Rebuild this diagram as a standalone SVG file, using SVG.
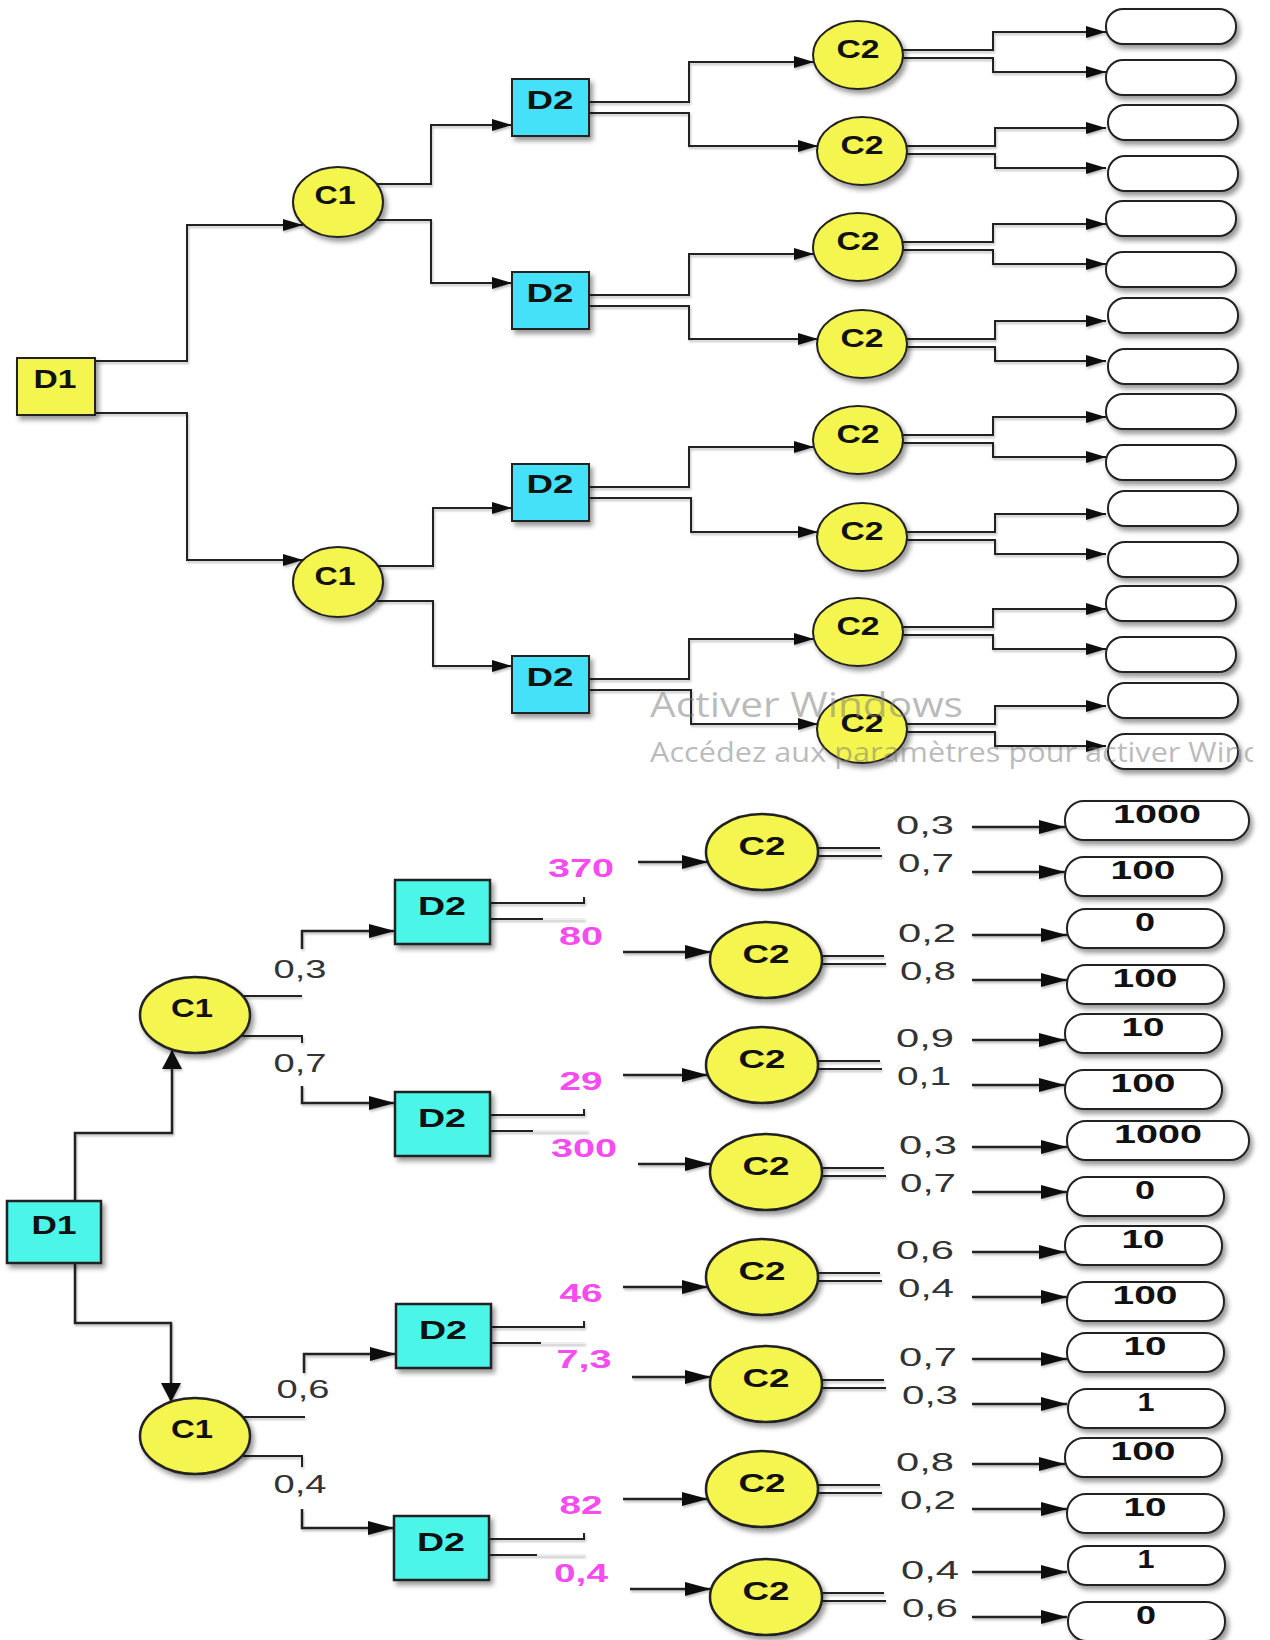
<svg xmlns="http://www.w3.org/2000/svg" width="1270" height="1640" viewBox="0 0 1270 1640">
<style>
.nd{stroke:#222;stroke-width:2;filter:url(#sh)}
.ndb{stroke:#222;stroke-width:2.5;filter:url(#sh)}
.y{fill:#F5F54F}
.cy{fill:#45E1F8}
.tq{fill:#4BF6E9}
.ob{fill:#fff;stroke:#222;stroke-width:2;filter:url(#sh)}
.nt{font-family:"Liberation Sans",Arial,sans-serif;font-weight:700;font-size:25px;text-anchor:middle;fill:#111}
.mg{font-family:"Liberation Sans",Arial,sans-serif;font-weight:700;font-size:25px;text-anchor:middle;fill:#F54BEF}
.pr{font-family:"Liberation Sans",Arial,sans-serif;font-weight:400;font-size:26px;text-anchor:middle;fill:#333}
.ln{fill:none;stroke:#222;stroke-width:2}
.lb{fill:none;stroke:#222;stroke-width:2.5}
.fa{fill:none;stroke:#eee;stroke-width:2}
.wm{font-family:"Open Sans","Noto Sans",sans-serif;fill:#777;fill-opacity:0.5}
</style>
<defs>
<filter id="sh" x="-20%" y="-20%" width="150%" height="160%"><feDropShadow dx="3" dy="4" stdDeviation="2.5" flood-color="#000" flood-opacity="0.4"/></filter>
<filter id="lsh" filterUnits="userSpaceOnUse" x="0" y="0" width="1270" height="1640"><feDropShadow dx="1" dy="2" stdDeviation="1" flood-color="#000" flood-opacity="0.25"/></filter>
<marker id="aT" markerUnits="userSpaceOnUse" markerWidth="20" markerHeight="12" refX="20" refY="6" orient="auto"><path d="M0,0 L20,6 L0,12 z" fill="#111"/></marker>
<marker id="aB" markerUnits="userSpaceOnUse" markerWidth="26" markerHeight="14" refX="26" refY="7" orient="auto"><path d="M0,0 L26,7 L0,14 z" fill="#111"/></marker>
<marker id="aV" markerUnits="userSpaceOnUse" markerWidth="19" markerHeight="20" refX="19" refY="10" orient="auto"><path d="M0,0 L19,10 L0,20 z" fill="#111"/></marker>
<clipPath id="wclip"><rect x="0" y="0" width="1253" height="1640"/></clipPath>
</defs>

<g id="connectors" filter="url(#lsh)">
<path class="ln" d="M95,361 H187 V225 H303" marker-end="url(#aT)"/>
<path class="ln" d="M95,413 H187 V560 H303" marker-end="url(#aT)"/>
<path class="ln" d="M377,184 H431 V125 H512" marker-end="url(#aT)"/>
<path class="ln" d="M377,220 H431 V283 H512" marker-end="url(#aT)"/>
<path class="ln" d="M377,566 H433 V508 H512" marker-end="url(#aT)"/>
<path class="ln" d="M377,601 H433 V666 H512" marker-end="url(#aT)"/>
<path class="ln" d="M589,102 H689 V62 H814" marker-end="url(#aT)"/>
<path class="ln" d="M589,113 H689 V146 H818" marker-end="url(#aT)"/>
<path class="ln" d="M589,295 H689 V254 H814" marker-end="url(#aT)"/>
<path class="ln" d="M589,306 H689 V339 H818" marker-end="url(#aT)"/>
<path class="ln" d="M589,487 H689 V447 H814" marker-end="url(#aT)"/>
<path class="ln" d="M589,498 H691 V532 H818" marker-end="url(#aT)"/>
<path class="ln" d="M589,679 H689 V639 H814" marker-end="url(#aT)"/>
<path class="ln" d="M589,690 H691 V724 H818" marker-end="url(#aT)"/>
<path class="ln" d="M902,50 H993 V32 H1106" marker-end="url(#aT)"/>
<path class="ln" d="M902,58 H993 V72 H1106" marker-end="url(#aT)"/>
<path class="ln" d="M906,146 H995 V128 H1106" marker-end="url(#aT)"/>
<path class="ln" d="M906,154 H995 V168 H1106" marker-end="url(#aT)"/>
<path class="ln" d="M902,242 H993 V224 H1106" marker-end="url(#aT)"/>
<path class="ln" d="M902,250 H993 V264 H1106" marker-end="url(#aT)"/>
<path class="ln" d="M906,339 H995 V321 H1106" marker-end="url(#aT)"/>
<path class="ln" d="M906,347 H995 V361 H1106" marker-end="url(#aT)"/>
<path class="ln" d="M902,435 H993 V417 H1106" marker-end="url(#aT)"/>
<path class="ln" d="M902,443 H993 V457 H1106" marker-end="url(#aT)"/>
<path class="ln" d="M906,532 H995 V514 H1106" marker-end="url(#aT)"/>
<path class="ln" d="M906,540 H995 V554 H1106" marker-end="url(#aT)"/>
<path class="ln" d="M902,627 H993 V609 H1106" marker-end="url(#aT)"/>
<path class="ln" d="M902,635 H993 V649 H1106" marker-end="url(#aT)"/>
<path class="ln" d="M906,724 H995 V706 H1106" marker-end="url(#aT)"/>
<path class="ln" d="M906,732 H995 V746 H1106" marker-end="url(#aT)"/>
<path class="lb" d="M75,1201 V1133 H172 V1050" marker-end="url(#aV)"/>
<path class="lb" d="M75,1263 V1323 H171 V1402" marker-end="url(#aV)"/>
<path class="ln" d="M243,996 H302"/>
<path class="lb" d="M302,949 V931 H395" marker-end="url(#aB)"/>
<path class="ln" d="M241,1036 H302 V1043"/>
<path class="lb" d="M302,1086 V1103 H395" marker-end="url(#aB)"/>
<path class="ln" d="M243,1417 H305"/>
<path class="lb" d="M304,1373 V1354 H396" marker-end="url(#aB)"/>
<path class="ln" d="M241,1456 H302 V1467"/>
<path class="lb" d="M302,1509 V1528 H394" marker-end="url(#aB)"/>
<path class="ln" d="M489,903 H584 V897"/>
<path class="ln" d="M489,919 H543"/>
<path class="fa" d="M543,919 H585"/>
<path class="ln" d="M489,1115 H584 V1109"/>
<path class="ln" d="M489,1131 H533"/>
<path class="fa" d="M533,1131 H588"/>
<path class="ln" d="M491,1327 H584 V1321"/>
<path class="ln" d="M491,1343 H541"/>
<path class="fa" d="M541,1343 H585"/>
<path class="ln" d="M489,1539 H584 V1533"/>
<path class="ln" d="M489,1555 H537"/>
<path class="fa" d="M537,1555 H585"/>
<path class="lb" d="M638,862 H708" marker-end="url(#aB)"/>
<path class="lb" d="M623,952 H711" marker-end="url(#aB)"/>
<path class="lb" d="M623,1075 H708" marker-end="url(#aB)"/>
<path class="lb" d="M638,1164 H711" marker-end="url(#aB)"/>
<path class="lb" d="M623,1287 H708" marker-end="url(#aB)"/>
<path class="lb" d="M632,1377 H711" marker-end="url(#aB)"/>
<path class="lb" d="M623,1499 H708" marker-end="url(#aB)"/>
<path class="lb" d="M630,1589 H711" marker-end="url(#aB)"/>
<path class="ln" d="M816,848 H880 M816,856 H882"/>
<path class="ln" d="M820,956 H884 M820,964 H886"/>
<path class="ln" d="M816,1061 H880 M816,1069 H882"/>
<path class="ln" d="M820,1168 H884 M820,1176 H886"/>
<path class="ln" d="M816,1273 H880 M816,1281 H882"/>
<path class="ln" d="M820,1380 H884 M820,1388 H886"/>
<path class="ln" d="M816,1485 H880 M816,1493 H882"/>
<path class="ln" d="M820,1593 H884 M820,1601 H886"/>
<path class="lb" d="M972,827 H1065" marker-end="url(#aB)"/>
<path class="lb" d="M972,872 H1065" marker-end="url(#aB)"/>
<path class="lb" d="M972,935 H1067" marker-end="url(#aB)"/>
<path class="lb" d="M972,980 H1067" marker-end="url(#aB)"/>
<path class="lb" d="M972,1040 H1065" marker-end="url(#aB)"/>
<path class="lb" d="M972,1085 H1065" marker-end="url(#aB)"/>
<path class="lb" d="M972,1147 H1067" marker-end="url(#aB)"/>
<path class="lb" d="M972,1192 H1067" marker-end="url(#aB)"/>
<path class="lb" d="M972,1252 H1065" marker-end="url(#aB)"/>
<path class="lb" d="M972,1297 H1067" marker-end="url(#aB)"/>
<path class="lb" d="M972,1359 H1067" marker-end="url(#aB)"/>
<path class="lb" d="M972,1404 H1067" marker-end="url(#aB)"/>
<path class="lb" d="M972,1464 H1065" marker-end="url(#aB)"/>
<path class="lb" d="M972,1509 H1067" marker-end="url(#aB)"/>
<path class="lb" d="M972,1572 H1067" marker-end="url(#aB)"/>
<path class="lb" d="M972,1617 H1067" marker-end="url(#aB)"/>
</g>

<g id="t-d1"><rect class="nd y" x="17" y="358" width="78" height="57"/><text class="nt" x="55" y="388" textLength="43" lengthAdjust="spacingAndGlyphs">D1</text></g>
<g id="t-c1a"><ellipse class="nd y" cx="338" cy="202" rx="45" ry="35"/><text class="nt" x="335" y="204" textLength="41" lengthAdjust="spacingAndGlyphs">C1</text></g>
<g id="t-c1b"><ellipse class="nd y" cx="338" cy="582" rx="45" ry="35"/><text class="nt" x="335" y="585" textLength="41" lengthAdjust="spacingAndGlyphs">C1</text></g>
<g id="t-d2a"><rect class="nd cy" x="512" y="79" width="77" height="57"/><text class="nt" x="550" y="109" textLength="47" lengthAdjust="spacingAndGlyphs">D2</text></g>
<g id="t-d2b"><rect class="nd cy" x="512" y="272" width="77" height="57"/><text class="nt" x="550" y="302" textLength="47" lengthAdjust="spacingAndGlyphs">D2</text></g>
<g id="t-d2c"><rect class="nd cy" x="512" y="464" width="77" height="57"/><text class="nt" x="550" y="493" textLength="47" lengthAdjust="spacingAndGlyphs">D2</text></g>
<g id="t-d2d"><rect class="nd cy" x="512" y="656" width="77" height="57"/><text class="nt" x="550" y="686" textLength="47" lengthAdjust="spacingAndGlyphs">D2</text></g>
<g id="t-c2a"><ellipse class="nd y" cx="858" cy="55" rx="45" ry="34"/><text class="nt" x="858" y="58" textLength="43" lengthAdjust="spacingAndGlyphs">C2</text></g>
<g id="t-c2b"><ellipse class="nd y" cx="862" cy="151" rx="45" ry="34"/><text class="nt" x="862" y="154" textLength="43" lengthAdjust="spacingAndGlyphs">C2</text></g>
<g id="t-c2c"><ellipse class="nd y" cx="858" cy="247" rx="45" ry="34"/><text class="nt" x="858" y="250" textLength="43" lengthAdjust="spacingAndGlyphs">C2</text></g>
<g id="t-c2d"><ellipse class="nd y" cx="862" cy="344" rx="45" ry="34"/><text class="nt" x="862" y="347" textLength="43" lengthAdjust="spacingAndGlyphs">C2</text></g>
<g id="t-c2e"><ellipse class="nd y" cx="858" cy="440" rx="45" ry="34"/><text class="nt" x="858" y="443" textLength="43" lengthAdjust="spacingAndGlyphs">C2</text></g>
<g id="t-c2f"><ellipse class="nd y" cx="862" cy="537" rx="45" ry="34"/><text class="nt" x="862" y="540" textLength="43" lengthAdjust="spacingAndGlyphs">C2</text></g>
<g id="t-c2g"><ellipse class="nd y" cx="858" cy="632" rx="45" ry="34"/><text class="nt" x="858" y="635" textLength="43" lengthAdjust="spacingAndGlyphs">C2</text></g>
<g id="t-c2h"><ellipse class="nd y" cx="862" cy="729" rx="45" ry="34"/><text class="nt" x="862" y="732" textLength="43" lengthAdjust="spacingAndGlyphs">C2</text></g>
<g id="t-outcomes">
<rect id="t-o1" class="ob" x="1106" y="9" width="130" height="35" rx="17"/>
<rect id="t-o2" class="ob" x="1106" y="60" width="130" height="35" rx="17"/>
<rect id="t-o3" class="ob" x="1108" y="105" width="130" height="35" rx="17"/>
<rect id="t-o4" class="ob" x="1108" y="156" width="130" height="35" rx="17"/>
<rect id="t-o5" class="ob" x="1106" y="201" width="130" height="35" rx="17"/>
<rect id="t-o6" class="ob" x="1106" y="252" width="130" height="35" rx="17"/>
<rect id="t-o7" class="ob" x="1108" y="298" width="130" height="35" rx="17"/>
<rect id="t-o8" class="ob" x="1108" y="349" width="130" height="35" rx="17"/>
<rect id="t-o9" class="ob" x="1106" y="394" width="130" height="35" rx="17"/>
<rect id="t-o10" class="ob" x="1106" y="445" width="130" height="35" rx="17"/>
<rect id="t-o11" class="ob" x="1108" y="491" width="130" height="35" rx="17"/>
<rect id="t-o12" class="ob" x="1108" y="542" width="130" height="35" rx="17"/>
<rect id="t-o13" class="ob" x="1106" y="586" width="130" height="35" rx="17"/>
<rect id="t-o14" class="ob" x="1106" y="637" width="130" height="35" rx="17"/>
<rect id="t-o15" class="ob" x="1108" y="683" width="130" height="35" rx="17"/>
<rect id="t-o16" class="ob" x="1108" y="734" width="130" height="35" rx="17"/>
</g>

<g id="b-d1"><rect class="ndb tq" x="7" y="1201" width="94" height="62"/><text class="nt" x="54" y="1234" textLength="45" lengthAdjust="spacingAndGlyphs">D1</text></g>
<g id="b-c1a"><ellipse class="ndb y" cx="195" cy="1015" rx="55" ry="38"/><text class="nt" x="192" y="1017" textLength="42" lengthAdjust="spacingAndGlyphs">C1</text></g>
<g id="b-c1b"><ellipse class="ndb y" cx="195" cy="1436" rx="55" ry="38"/><text class="nt" x="192" y="1438" textLength="42" lengthAdjust="spacingAndGlyphs">C1</text></g>
<g id="b-d2a"><rect class="ndb tq" x="395" y="880" width="95" height="64"/><text class="nt" x="442" y="915" textLength="48" lengthAdjust="spacingAndGlyphs">D2</text></g>
<g id="b-d2b"><rect class="ndb tq" x="395" y="1092" width="95" height="64"/><text class="nt" x="442" y="1127" textLength="48" lengthAdjust="spacingAndGlyphs">D2</text></g>
<g id="b-d2c"><rect class="ndb tq" x="396" y="1304" width="95" height="64"/><text class="nt" x="443" y="1339" textLength="48" lengthAdjust="spacingAndGlyphs">D2</text></g>
<g id="b-d2d"><rect class="ndb tq" x="394" y="1516" width="95" height="64"/><text class="nt" x="441" y="1551" textLength="48" lengthAdjust="spacingAndGlyphs">D2</text></g>
<g id="b-c2a"><ellipse class="ndb y" cx="762" cy="852" rx="56" ry="38"/><text class="nt" x="762" y="855" textLength="47" lengthAdjust="spacingAndGlyphs">C2</text></g>
<g id="b-c2b"><ellipse class="ndb y" cx="766" cy="960" rx="56" ry="38"/><text class="nt" x="766" y="963" textLength="47" lengthAdjust="spacingAndGlyphs">C2</text></g>
<g id="b-c2c"><ellipse class="ndb y" cx="762" cy="1065" rx="56" ry="38"/><text class="nt" x="762" y="1068" textLength="47" lengthAdjust="spacingAndGlyphs">C2</text></g>
<g id="b-c2d"><ellipse class="ndb y" cx="766" cy="1172" rx="56" ry="38"/><text class="nt" x="766" y="1175" textLength="47" lengthAdjust="spacingAndGlyphs">C2</text></g>
<g id="b-c2e"><ellipse class="ndb y" cx="762" cy="1277" rx="56" ry="38"/><text class="nt" x="762" y="1280" textLength="47" lengthAdjust="spacingAndGlyphs">C2</text></g>
<g id="b-c2f"><ellipse class="ndb y" cx="766" cy="1384" rx="56" ry="38"/><text class="nt" x="766" y="1387" textLength="47" lengthAdjust="spacingAndGlyphs">C2</text></g>
<g id="b-c2g"><ellipse class="ndb y" cx="762" cy="1489" rx="56" ry="38"/><text class="nt" x="762" y="1492" textLength="47" lengthAdjust="spacingAndGlyphs">C2</text></g>
<g id="b-c2h"><ellipse class="ndb y" cx="766" cy="1597" rx="56" ry="38"/><text class="nt" x="766" y="1600" textLength="47" lengthAdjust="spacingAndGlyphs">C2</text></g>

<g id="b-outcomes">
<g id="b-o1"><rect class="ob" x="1065" y="801" width="184" height="39" rx="19"/><text class="nt" x="1157" y="823" textLength="88" lengthAdjust="spacingAndGlyphs">1000</text></g>
<g id="b-o2"><rect class="ob" x="1065" y="857" width="157" height="39" rx="19"/><text class="nt" x="1143" y="879" textLength="65" lengthAdjust="spacingAndGlyphs">100</text></g>
<g id="b-o3"><rect class="ob" x="1067" y="909" width="157" height="39" rx="19"/><text class="nt" x="1145" y="931" textLength="20" lengthAdjust="spacingAndGlyphs">0</text></g>
<g id="b-o4"><rect class="ob" x="1067" y="965" width="157" height="39" rx="19"/><text class="nt" x="1145" y="987" textLength="65" lengthAdjust="spacingAndGlyphs">100</text></g>
<g id="b-o5"><rect class="ob" x="1065" y="1014" width="157" height="39" rx="19"/><text class="nt" x="1143" y="1036" textLength="43" lengthAdjust="spacingAndGlyphs">10</text></g>
<g id="b-o6"><rect class="ob" x="1065" y="1070" width="157" height="39" rx="19"/><text class="nt" x="1143" y="1092" textLength="65" lengthAdjust="spacingAndGlyphs">100</text></g>
<g id="b-o7"><rect class="ob" x="1067" y="1121" width="182" height="39" rx="19"/><text class="nt" x="1158" y="1143" textLength="88" lengthAdjust="spacingAndGlyphs">1000</text></g>
<g id="b-o8"><rect class="ob" x="1067" y="1177" width="157" height="39" rx="19"/><text class="nt" x="1145" y="1199" textLength="20" lengthAdjust="spacingAndGlyphs">0</text></g>
<g id="b-o9"><rect class="ob" x="1065" y="1226" width="157" height="39" rx="19"/><text class="nt" x="1143" y="1248" textLength="43" lengthAdjust="spacingAndGlyphs">10</text></g>
<g id="b-o10"><rect class="ob" x="1067" y="1282" width="157" height="39" rx="19"/><text class="nt" x="1145" y="1304" textLength="65" lengthAdjust="spacingAndGlyphs">100</text></g>
<g id="b-o11"><rect class="ob" x="1067" y="1333" width="157" height="39" rx="19"/><text class="nt" x="1145" y="1355" textLength="43" lengthAdjust="spacingAndGlyphs">10</text></g>
<g id="b-o12"><rect class="ob" x="1068" y="1389" width="157" height="39" rx="19"/><text class="nt" x="1146" y="1411" textLength="17" lengthAdjust="spacingAndGlyphs">1</text></g>
<g id="b-o13"><rect class="ob" x="1065" y="1438" width="157" height="39" rx="19"/><text class="nt" x="1143" y="1460" textLength="65" lengthAdjust="spacingAndGlyphs">100</text></g>
<g id="b-o14"><rect class="ob" x="1067" y="1494" width="157" height="39" rx="19"/><text class="nt" x="1145" y="1516" textLength="43" lengthAdjust="spacingAndGlyphs">10</text></g>
<g id="b-o15"><rect class="ob" x="1068" y="1546" width="157" height="39" rx="19"/><text class="nt" x="1146" y="1568" textLength="17" lengthAdjust="spacingAndGlyphs">1</text></g>
<g id="b-o16"><rect class="ob" x="1068" y="1602" width="157" height="39" rx="19"/><text class="nt" x="1146" y="1624" textLength="20" lengthAdjust="spacingAndGlyphs">0</text></g>
</g>

<g id="labels">
<text class="pr" x="300" y="978" textLength="53" lengthAdjust="spacingAndGlyphs">0,3</text>
<text class="pr" x="300" y="1072" textLength="53" lengthAdjust="spacingAndGlyphs">0,7</text>
<text class="pr" x="303" y="1398" textLength="53" lengthAdjust="spacingAndGlyphs">0,6</text>
<text class="pr" x="300" y="1493" textLength="53" lengthAdjust="spacingAndGlyphs">0,4</text>
<text class="mg" x="581" y="877" textLength="66" lengthAdjust="spacingAndGlyphs">370</text>
<text class="mg" x="581" y="945" textLength="44" lengthAdjust="spacingAndGlyphs">80</text>
<text class="mg" x="581" y="1090" textLength="43" lengthAdjust="spacingAndGlyphs">29</text>
<text class="mg" x="584" y="1157" textLength="66" lengthAdjust="spacingAndGlyphs">300</text>
<text class="mg" x="581" y="1302" textLength="43" lengthAdjust="spacingAndGlyphs">46</text>
<text class="mg" x="584" y="1368" textLength="55" lengthAdjust="spacingAndGlyphs">7,3</text>
<text class="mg" x="581" y="1514" textLength="43" lengthAdjust="spacingAndGlyphs">82</text>
<text class="mg" x="581" y="1582" textLength="54" lengthAdjust="spacingAndGlyphs">0,4</text>
<text class="pr" x="925" y="834" textLength="58" lengthAdjust="spacingAndGlyphs">0,3</text>
<text class="pr" x="926" y="872" textLength="56" lengthAdjust="spacingAndGlyphs">0,7</text>
<text class="pr" x="927" y="942" textLength="58" lengthAdjust="spacingAndGlyphs">0,2</text>
<text class="pr" x="928" y="980" textLength="56" lengthAdjust="spacingAndGlyphs">0,8</text>
<text class="pr" x="925" y="1047" textLength="58" lengthAdjust="spacingAndGlyphs">0,9</text>
<text class="pr" x="924" y="1085" textLength="54" lengthAdjust="spacingAndGlyphs">0,1</text>
<text class="pr" x="928" y="1154" textLength="58" lengthAdjust="spacingAndGlyphs">0,3</text>
<text class="pr" x="928" y="1192" textLength="56" lengthAdjust="spacingAndGlyphs">0,7</text>
<text class="pr" x="925" y="1259" textLength="58" lengthAdjust="spacingAndGlyphs">0,6</text>
<text class="pr" x="926" y="1297" textLength="56" lengthAdjust="spacingAndGlyphs">0,4</text>
<text class="pr" x="928" y="1366" textLength="58" lengthAdjust="spacingAndGlyphs">0,7</text>
<text class="pr" x="930" y="1404" textLength="56" lengthAdjust="spacingAndGlyphs">0,3</text>
<text class="pr" x="925" y="1471" textLength="58" lengthAdjust="spacingAndGlyphs">0,8</text>
<text class="pr" x="928" y="1509" textLength="56" lengthAdjust="spacingAndGlyphs">0,2</text>
<text class="pr" x="930" y="1579" textLength="58" lengthAdjust="spacingAndGlyphs">0,4</text>
<text class="pr" x="930" y="1617" textLength="56" lengthAdjust="spacingAndGlyphs">0,6</text>
</g>

<g id="watermark" clip-path="url(#wclip)">
<text class="wm" x="650" y="717" font-size="34" textLength="313" lengthAdjust="spacingAndGlyphs">Activer Windows</text>
<text class="wm" x="650" y="762" font-size="27" textLength="612" lengthAdjust="spacingAndGlyphs">Accédez aux paramètres pour activer Wind</text>
</g>
</svg>
